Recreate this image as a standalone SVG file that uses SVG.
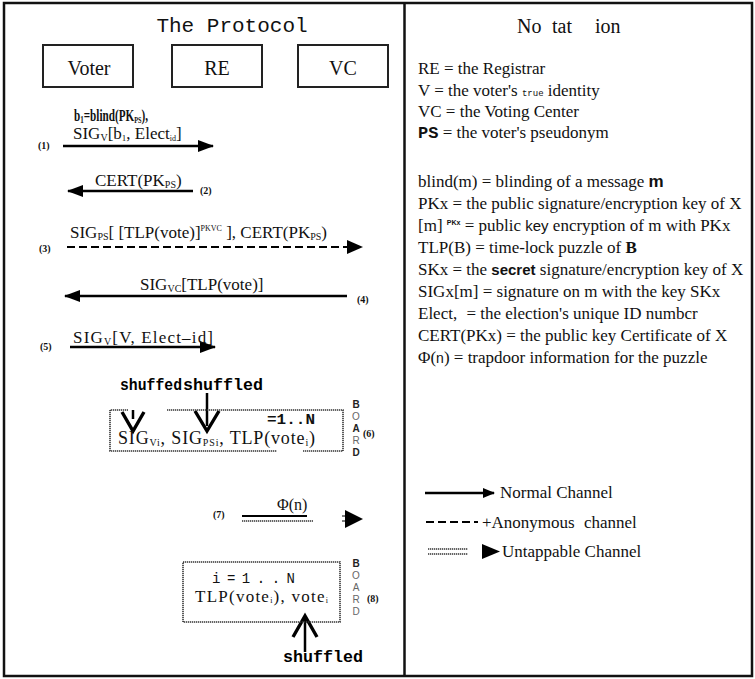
<svg xmlns="http://www.w3.org/2000/svg" width="755" height="679" viewBox="0 0 755 679">
<style>
.frame{fill:none;stroke:#111;stroke-width:2.5}
.box{fill:#fff;stroke:#222;stroke-width:2}
.serif{font-family:"Liberation Serif","Times New Roman",serif;fill:#111}
.mono{font-family:"Liberation Mono","Courier New",monospace;fill:#111}
.sans{font-family:"Liberation Sans",Arial,sans-serif;fill:#111}
.num{font-family:"Liberation Serif","Times New Roman",serif;font-size:10px;font-weight:bold;fill:#111}
.msg{font-size:17px}
.nt{font-size:17px}
.line{stroke:#000;stroke-width:2.5;fill:none}
.dash{stroke:#000;stroke-width:2.2;fill:none;stroke-dasharray:8 4}
.dot{stroke:#333;stroke-width:1.6;fill:none;stroke-dasharray:1.3 0.7}
.chev{stroke:#000;stroke-width:3.4;fill:none;stroke-linejoin:miter}
.brd{font-family:"Liberation Sans",Arial,sans-serif;font-size:10px;font-weight:bold;fill:#222;text-anchor:middle}
.brd2{font-family:"Liberation Sans",Arial,sans-serif;font-size:10px;fill:#666;text-anchor:middle}
.shuf{font-family:"Liberation Mono","Courier New",monospace;font-size:16px;font-weight:bold;fill:#000}
</style>
<defs>
<marker id="ah" viewBox="0 0 16 12" refX="15" refY="6" markerWidth="16" markerHeight="12" orient="auto" markerUnits="userSpaceOnUse">
<path d="M0,0 L16,6 L0,12 z" fill="#000"/>
</marker>
<marker id="ahs" viewBox="0 0 12 10" refX="11" refY="5" markerWidth="12" markerHeight="10" orient="auto" markerUnits="userSpaceOnUse">
<path d="M0,0 L12,5 L0,10 z" fill="#000"/>
</marker>
</defs>
<rect width="755" height="679" fill="#fff"/>
<g id="frame">
<rect class="frame" x="4" y="3" width="748" height="673"/>
<line class="frame" x1="404.5" y1="3" x2="404.5" y2="676" stroke-width="2"/>
</g>

<g id="title"><text class="mono" x="232" y="32" font-size="21" text-anchor="middle" fill="#222">The Protocol</text></g>

<g id="voter"><rect class="box" x="43" y="45" width="90" height="42"/><text class="serif" font-family="Liberation Serif, serif" x="89" y="75" font-size="20" text-anchor="middle">Voter</text></g>
<g id="re"><rect class="box" x="172" y="45" width="90" height="42"/><text class="serif" font-family="Liberation Serif, serif" x="217" y="75" font-size="20" text-anchor="middle">RE</text></g>
<g id="vc"><rect class="box" x="298" y="45" width="90" height="42"/><text class="serif" font-family="Liberation Serif, serif" x="343" y="75" font-size="20" text-anchor="middle">VC</text></g>

<g id="connectors">
<line class="line" x1="63" y1="146" x2="213" y2="146" marker-end="url(#ah)"/>
<line class="line" x1="193" y1="191" x2="68" y2="191" marker-end="url(#ah)"/>
<line class="dash" x1="67" y1="247" x2="350" y2="247"/>
<path d="M347,240 L363,247 L347,254 z" fill="#000"/>
<line class="line" x1="347" y1="296" x2="65" y2="296" marker-end="url(#ah)"/>
<line class="line" x1="70" y1="347" x2="215" y2="347" marker-end="url(#ah)"/>
<line stroke="#000" stroke-width="2.2" x1="242" y1="516" x2="307" y2="516"/>
<line class="dot" stroke="#000" stroke-width="2" x1="242" y1="521" x2="313" y2="521"/>
<line stroke="#000" stroke-width="1" x1="342" y1="516" x2="346" y2="516"/>
<line stroke="#000" stroke-width="1" x1="342" y1="521" x2="346" y2="521"/>
<path d="M345,510 L363,519 L345,528 z" fill="#000"/>
<line stroke="#000" stroke-width="2.5" x1="133" y1="410" x2="133" y2="419"/>
<polyline class="chev" points="122,412 133,431 144,412"/>
<line stroke="#000" stroke-width="2.5" x1="207" y1="393" x2="207" y2="426"/>
<polyline class="chev" points="195,411 207,431 219,411"/>
<line stroke="#000" stroke-width="2.5" x1="305" y1="616" x2="305" y2="652"/>
<polyline class="chev" points="293,637 305,616 317,637"/>
</g>

<g id="messages">
<text class="serif" transform="translate(74,121) scale(0.7,1)" x="0" y="0" font-size="16" font-weight="bold">b<tspan font-size="10" dy="2">1</tspan><tspan dy="-2">=blind(PK</tspan><tspan font-size="9" dy="2">PS</tspan><tspan dy="-2">),</tspan></text>
<text class="serif msg" x="73" y="139">SIG<tspan font-size="10" dy="2">V</tspan><tspan dy="-2">[b</tspan><tspan font-size="9" dy="2">1</tspan><tspan dy="-2">, Elect</tspan><tspan font-size="8" dy="2">id</tspan><tspan dy="-2">]</tspan></text>
<text class="num" x="38" y="149">(1)</text>
<text class="serif msg" x="95" y="186">CERT(PK<tspan font-size="10" dy="2">PS</tspan><tspan dy="-2">)</tspan></text>
<text class="num" x="200" y="194">(2)</text>
<text class="serif msg" x="70" y="238">SIG<tspan font-size="10" dy="2">PS</tspan><tspan dy="-2">[ [TLP(vote)]</tspan><tspan font-size="8" dy="-7">PKVC</tspan><tspan dy="7"> ], CERT(PK</tspan><tspan font-size="10" dy="2">PS</tspan><tspan dy="-2">)</tspan></text>
<text class="num" x="39" y="252">(3)</text>
<text class="serif msg" x="140" y="290">SIG<tspan font-size="10" dy="2">VC</tspan><tspan dy="-2">[TLP(vote)]</tspan></text>
<text class="num" x="357" y="303">(4)</text>
<text class="serif" x="73" y="343" font-size="17" textLength="140" lengthAdjust="spacing">SIG<tspan font-size="10" dy="2">V</tspan><tspan dy="-2">[V, Elect–id]</tspan></text>
<text class="num" x="40" y="350">(5)</text>
<text class="shuf" x="120" y="390" textLength="62" lengthAdjust="spacingAndGlyphs">shuffed</text>
<text class="shuf" x="183" y="390" textLength="80" lengthAdjust="spacingAndGlyphs">shuffled</text>
<text class="num" x="213" y="518" font-size="11">(7)</text>
<text class="serif" x="277" y="510" font-size="16">Φ(n)</text>
</g>

<g id="board6">
<path class="dot" d="M128,410 H110 V451 H277 M303,451 H343 V410 H167"/>
<text class="mono" x="267" y="424" font-size="15" font-weight="bold" textLength="48" lengthAdjust="spacingAndGlyphs">=1..N</text>
<text class="serif" x="118" y="444" font-size="18" textLength="197" lengthAdjust="spacing">SIG<tspan font-size="10" dy="2">Vi</tspan><tspan dy="-2">, SIG</tspan><tspan font-size="10" dy="2">PSi</tspan><tspan dy="-2">, TLP(vote</tspan><tspan font-size="10" dy="2">i</tspan><tspan dy="-2">)</tspan></text>
<text class="brd" x="356" y="408">B</text>
<text class="brd2" x="356" y="420">O</text>
<text class="brd" x="356" y="432">A</text>
<text class="brd2" x="356" y="444">R</text>
<text class="brd" x="356" y="456">D</text>
<text class="num" x="363" y="437" font-weight="normal" font-size="11">(6)</text>
</g>

<g id="board8">
<rect class="dot" x="183" y="562" width="157" height="60"/>
<text class="mono" x="212" y="583" font-size="14" textLength="83" lengthAdjust="spacing">i=1..N</text>
<text class="serif" x="195" y="602" font-size="17" textLength="133" lengthAdjust="spacing">TLP(vote<tspan font-size="8" dy="1">i</tspan><tspan dy="-1">),  vote</tspan><tspan font-size="8" dy="1">i</tspan></text>
<text class="brd" x="356" y="567">B</text>
<text class="brd2" x="356" y="579">O</text>
<text class="brd2" x="356" y="591">A</text>
<text class="brd2" x="356" y="603">R</text>
<text class="brd2" x="356" y="615">D</text>
<text class="num" x="367" y="602" font-weight="normal" font-size="11">(8)</text>
<text class="shuf" x="283" y="662" textLength="80" lengthAdjust="spacingAndGlyphs">shuffled</text>
</g>

<g id="notation">
<text class="serif" font-family="Liberation Serif, serif" y="33" font-size="20"><tspan x="517">No</tspan><tspan x="552">tat</tspan><tspan x="595">ion</tspan></text>
<text class="serif nt" x="418" y="74">RE = the Registrar</text>
<text class="serif nt" x="418" y="96">V = the voter's <tspan class="mono" font-size="9">true</tspan> identity</text>
<text class="serif nt" x="418" y="117">VC = the Voting Center</text>
<text class="serif nt" x="418" y="138"><tspan class="mono" font-weight="bold">PS</tspan> = the voter's pseudonym</text>
<text class="serif nt" x="418" y="187">blind(m) = blinding of a message <tspan class="sans" font-weight="bold">m</tspan></text>
<text class="serif nt" x="418" y="209">PKx = the public signature/encryption key of X</text>
<text class="serif nt" x="418" y="231">[m] <tspan class="sans" font-size="7" font-weight="bold" dy="-6">PKx</tspan><tspan dy="6"> = public </tspan><tspan class="sans" font-size="15">key</tspan> encryption of m with PKx</text>
<text class="serif nt" x="418" y="253">TLP(B) = time-lock puzzle of <tspan font-weight="bold">B</tspan></text>
<text class="serif nt" x="418" y="275">SKx = the <tspan class="sans" font-size="15" font-weight="bold">secret</tspan> signature/encryption key of X</text>
<text class="serif nt" x="418" y="297">SIGx[m] = signature on m with the key SKx</text>
<text class="serif nt" x="418" y="319">Elect, <tspan dx="5">= the election's unique ID numbcr</tspan></text>
<text class="serif nt" x="418" y="341">CERT(PKx) = the public key Certificate of X</text>
<text class="serif nt" x="418" y="363">Φ(<tspan class="sans" font-size="14">n</tspan>) = trapdoor information for the puzzle</text>
</g>

<g id="legend">
<line stroke="#000" stroke-width="2.5" x1="425" y1="493" x2="494" y2="493" marker-end="url(#ahs)"/>
<text class="serif nt" x="500" y="498">Normal Channel</text>
<line class="dash" stroke-width="3" stroke-dasharray="7 5" x1="426" y1="522" x2="478" y2="522"/>
<text class="serif nt" x="482" y="528">+Anonymous <tspan dx="5">channel</tspan></text>
<line class="dot" stroke="#000" stroke-width="2" x1="428" y1="549" x2="468" y2="549"/>
<line class="dot" stroke="#000" stroke-width="2" x1="428" y1="554" x2="468" y2="554"/>
<path d="M482,544 L500,551.5 L482,559 z" fill="#000"/>
<text class="serif nt" x="502" y="557">Untappable Channel</text>
</g>
</svg>
